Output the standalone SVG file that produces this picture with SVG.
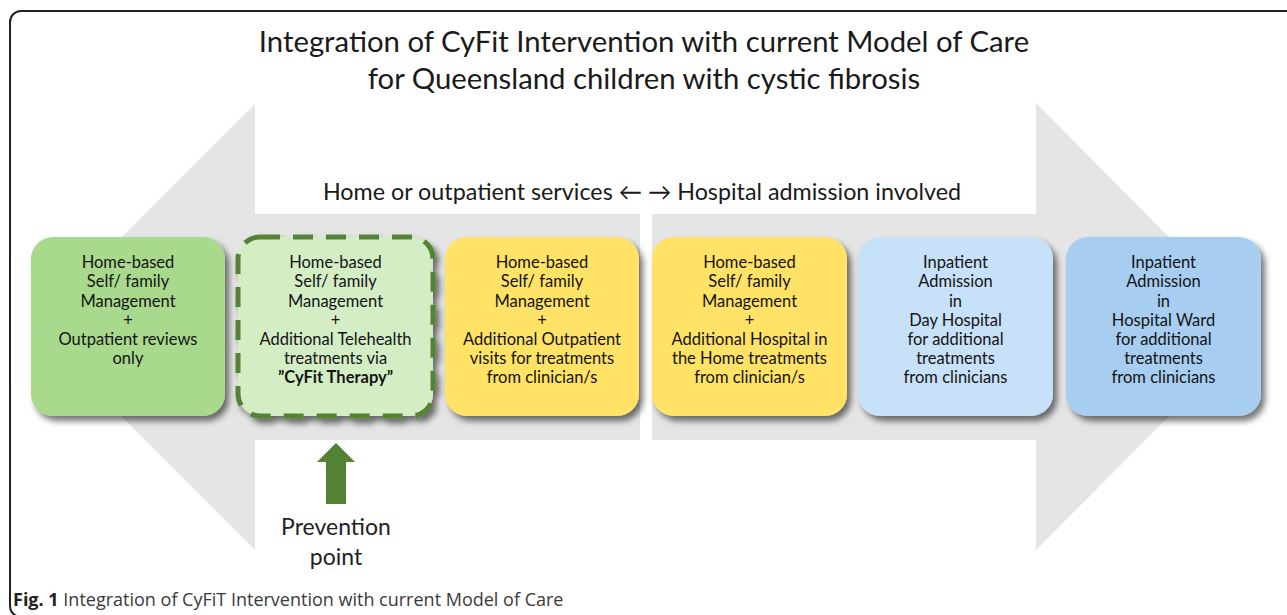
<svg xmlns="http://www.w3.org/2000/svg" width="1287" height="615" viewBox="0 0 1287 615">
  <defs>
    <filter id="shadow" x="-10%" y="-10%" width="130%" height="130%">
      <feDropShadow dx="4" dy="5" stdDeviation="3" flood-color="#000" flood-opacity="0.55"/>
    </filter>
    <style>
      .band { fill: #e5e5e5; }
      .box { filter: url(#shadow); }
      .lbl { font-family: Lato, "Liberation Sans", sans-serif; font-size: 16.5px; fill: #141414; text-anchor: middle; }
      .b { font-weight: bold; }
      .title { font-family: Lato, "Liberation Sans", sans-serif; font-size: 29.3px; fill: #1a1a1a; text-anchor: middle; }
      .mid { font-family: Lato, "Liberation Sans", sans-serif; font-size: 23.3px; fill: #1a1a1a; text-anchor: middle; }
      .prev { font-family: Lato, "Liberation Sans", sans-serif; font-size: 23px; fill: #222; text-anchor: middle; }
      .cap { font-family: "Open Sans", "Liberation Sans", sans-serif; font-size: 18px; fill: #3a3a3a; }
    </style>
  </defs>

  <rect width="1287" height="615" fill="#fff"/>

  <!-- figure frame, open at right and bottom -->
  <rect x="10" y="11" width="1320" height="606" rx="11" fill="none" stroke="#222" stroke-width="2"/>

  <!-- title -->
  <text class="title" x="644" y="52">Integration of CyFit Intervention with current Model of Care</text>
  <text class="title" x="644" y="89">for Queensland children with cystic fibrosis</text>

  <!-- broad direction arrows behind the care options -->
  <g id="direction-bands">
    <polygon id="band-left" class="band" points="640,214 255,214 255,104 32,327 255,550 255,440 640,440"/>
    <polygon id="band-right" class="band" points="652,214 1036,214 1036,103 1258,327 1036,550 1036,440 652,440"/>
  </g>

  <text class="mid" x="642" y="200">Home or outpatient services ←  → Hospital admission involved</text>

  <!-- care options -->
  <g id="node-home-outpatient">
    <rect class="box" x="31" y="237" width="194" height="179" rx="22" fill="#a9d98c"/>
    <text class="lbl" x="128" y="268">Home-based</text>
    <text class="lbl" x="128" y="287">Self/ family</text>
    <text class="lbl" x="128" y="306.5">Management</text>
    <text class="lbl" x="128" y="325.5">+</text>
    <text class="lbl" x="128" y="345">Outpatient reviews</text>
    <text class="lbl" x="128" y="364">only</text>
  </g>

  <g id="node-cyfit">
    <rect class="box" x="238" y="237" width="195" height="179" rx="22" fill="#d3edc4" stroke="#548235" stroke-width="5" stroke-dasharray="20 13"/>
    <text class="lbl" x="335.5" y="268">Home-based</text>
    <text class="lbl" x="335.5" y="287">Self/ family</text>
    <text class="lbl" x="335.5" y="306.5">Management</text>
    <text class="lbl" x="335.5" y="325.5">+</text>
    <text class="lbl" x="335.5" y="345">Additional Telehealth</text>
    <text class="lbl" x="335.5" y="364">treatments via</text>
    <text class="lbl b" x="335.5" y="383">”CyFit Therapy”</text>
  </g>

  <g id="node-outpatient-visits">
    <rect class="box" x="445" y="237" width="194" height="179" rx="22" fill="#ffe266"/>
    <text class="lbl" x="542" y="268">Home-based</text>
    <text class="lbl" x="542" y="287">Self/ family</text>
    <text class="lbl" x="542" y="306.5">Management</text>
    <text class="lbl" x="542" y="325.5">+</text>
    <text class="lbl" x="542" y="345">Additional Outpatient</text>
    <text class="lbl" x="542" y="364">visits for treatments</text>
    <text class="lbl" x="542" y="383">from clinician/s</text>
  </g>

  <g id="node-hospital-in-home">
    <rect class="box" x="652" y="237" width="195" height="179" rx="22" fill="#ffe266"/>
    <text class="lbl" x="749.5" y="268">Home-based</text>
    <text class="lbl" x="749.5" y="287">Self/ family</text>
    <text class="lbl" x="749.5" y="306.5">Management</text>
    <text class="lbl" x="749.5" y="325.5">+</text>
    <text class="lbl" x="749.5" y="345">Additional Hospital in</text>
    <text class="lbl" x="749.5" y="364">the Home treatments</text>
    <text class="lbl" x="749.5" y="383">from clinician/s</text>
  </g>

  <g id="node-day-hospital">
    <rect class="box" x="858" y="237" width="195" height="179" rx="22" fill="#c7e1f8"/>
    <text class="lbl" x="955.5" y="268">Inpatient</text>
    <text class="lbl" x="955.5" y="287">Admission</text>
    <text class="lbl" x="955.5" y="306.5">in</text>
    <text class="lbl" x="955.5" y="325.5">Day Hospital</text>
    <text class="lbl" x="955.5" y="345">for additional</text>
    <text class="lbl" x="955.5" y="364">treatments</text>
    <text class="lbl" x="955.5" y="383">from clinicians</text>
  </g>

  <g id="node-hospital-ward">
    <rect class="box" x="1066" y="237" width="195" height="179" rx="22" fill="#a7cdf1"/>
    <text class="lbl" x="1163.5" y="268">Inpatient</text>
    <text class="lbl" x="1163.5" y="287">Admission</text>
    <text class="lbl" x="1163.5" y="306.5">in</text>
    <text class="lbl" x="1163.5" y="325.5">Hospital Ward</text>
    <text class="lbl" x="1163.5" y="345">for additional</text>
    <text class="lbl" x="1163.5" y="364">treatments</text>
    <text class="lbl" x="1163.5" y="383">from clinicians</text>
  </g>

  <!-- prevention marker -->
  <g id="connectors">
    <polygon id="prevention-arrow" points="336,443 355,462 346,462 346,504 326,504 326,462 317,462" fill="#548235"/>
  </g>
  <g id="node-prevention">
    <text class="prev" x="336" y="535">Prevention</text>
    <text class="prev" x="336" y="565">point</text>
  </g>

  <!-- caption -->
  <text class="cap" x="13" y="606"><tspan font-weight="bold" fill="#222">Fig. 1</tspan> Integration of CyFiT Intervention with current Model of Care</text>
</svg>
